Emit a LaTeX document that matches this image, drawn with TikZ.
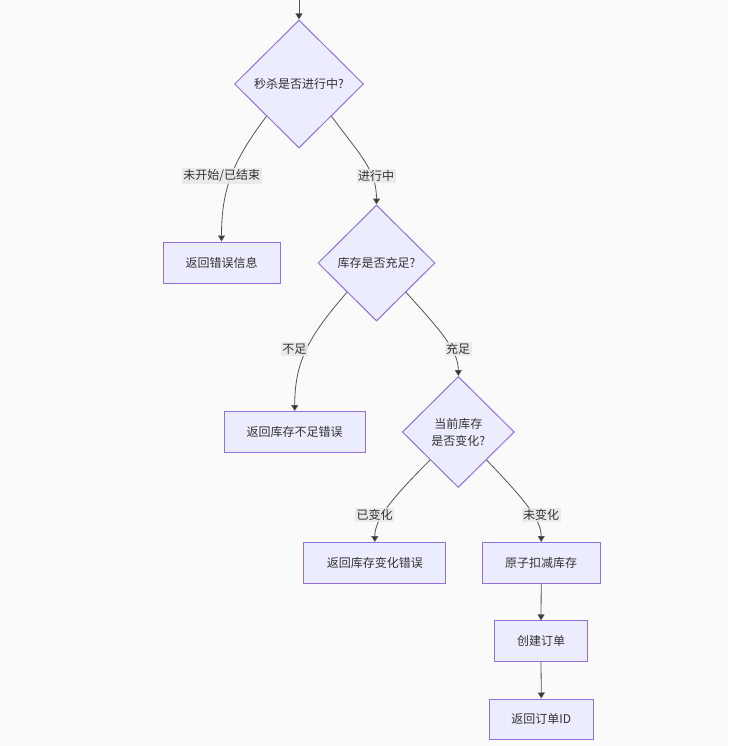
\documentclass[tikz,border=0pt]{standalone}
\usepackage{fontspec}
\setmainfont{Noto Sans CJK SC}
\usetikzlibrary{shapes.geometric,arrows.meta}
\definecolor{bgc}{HTML}{FAFAFA}
\definecolor{nfill}{HTML}{ECECFF}
\definecolor{nstroke}{HTML}{9370DB}
\definecolor{ecol}{HTML}{333333}
\definecolor{lcol}{HTML}{555555}
\definecolor{lblbg}{HTML}{E8E8E8}
\tikzset{
  base/.style={fill=nfill, draw=nstroke, line width=1pt, text=ecol, font=\fontsize{12}{17}\selectfont, align=center},
  procbox/.style={base, rectangle, inner sep=0pt},
  dia/.style={base, diamond, inner sep=0pt},
  arr/.style={draw=lcol, line width=0.8pt, -{Triangle[length=6pt,width=7pt,fill=ecol]}},
  elabel/.style={fill=lblbg, fill opacity=0.85, text opacity=1, text=ecol, inner sep=1.5pt, font=\fontsize{12}{14}\selectfont}
}
\begin{document}
\begin{tikzpicture}[x=1pt,y=-1pt]
\fill[bgc] (0,0) rectangle (728,746);
\useasboundingbox (0,0) rectangle (728,746);

\coordinate (top) at (299,-2);
\node[dia, minimum width=129pt, minimum height=128pt] (d1) at (299,84) {秒杀是否进行中?};
\node[procbox, minimum width=117pt, minimum height=41pt] (b1) at (221.5,262.5) {返回错误信息};
\node[dia, minimum width=117pt, minimum height=116pt] (d2) at (376.5,263) {库存是否充足?};
\node[procbox, minimum width=141pt, minimum height=41pt] (b2) at (294.7,432) {返回库存不足错误};
\node[dia, minimum width=112pt, minimum height=111pt] (d3) at (458.3,432) {当前库存\\是否变化?};
\node[procbox, minimum width=141.7pt, minimum height=41pt] (b3) at (374.8,563) {返回库存变化错误};
\node[procbox, minimum width=117.7pt, minimum height=41pt] (b4) at (541.2,563) {原子扣减库存};
\node[procbox, minimum width=93.3pt, minimum height=40.7pt] (b5) at (541,641.3) {创建订单};
\node[procbox, minimum width=104pt, minimum height=40pt] (b6) at (541.3,719) {返回订单ID};

\draw[arr] (top) -- (d1.north);
\draw[arr] (d1.south west) .. controls (232,162) and (221.5,190) .. (b1.north);
\draw[arr] (d1.south east) .. controls (360,155) and (376.5,170) .. (d2.north);
\draw[arr] (d2.south west) .. controls (310,335) and (294.7,360) .. (b2.north);
\draw[arr] (d2.south east) .. controls (440,330) and (458.3,350) .. (d3.north);
\draw[arr] (d3.south west) .. controls (390,500) and (374.8,520) .. (b3.north);
\draw[arr] (d3.south east) .. controls (525,500) and (541.2,520) .. (b4.north);
\draw[arr] (b4.south) -- (b5.north);
\draw[arr] (b5.south) -- (b6.north);

\node[elabel] (l1) at (221.7,176) {未开始/已结束};
\node[elabel] (l2) at (376,176) {进行中};
\node[elabel] (l3) at (294.3,349) {不足};
\node[elabel] (l4) at (458,349) {充足};
\node[elabel] (l5) at (374.7,515) {已变化};
\node[elabel] (l6) at (541,515) {未变化};
\end{tikzpicture}
\end{document}
